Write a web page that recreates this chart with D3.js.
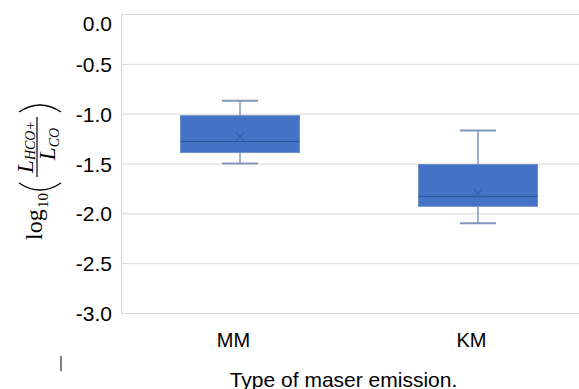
<!DOCTYPE html>
<html>
<head>
<meta charset="utf-8">
<script src="https://cdn.jsdelivr.net/npm/d3@7"></script>
<style>
  html, body { margin: 0; padding: 0; background: #fff; }
  svg { display: block; }
  text { font-family: "Liberation Sans", Arial, sans-serif; fill: #000; }
  .math text { font-family: "Liberation Serif", "Times New Roman", serif; }
</style>
</head>
<body>
<svg id="chart" width="579" height="389"></svg>
<script>
// box plot values
const categories = ["MM", "KM"];
const whiskerLow = [-1.50, -2.10];
const q1 = [-1.39, -1.93];
const median = [-1.28, -1.83];
const q3 = [-1.02, -1.51];
const whiskerHigh = [-0.87, -1.17];
const mean = [-1.23, -1.80];
const yTicks = [0, -0.5, -1, -1.5, -2, -2.5, -3];

const W = 579, H = 389;
const plot = { left: 121, top: 14, bottom: 313, right: 597 };

const svg = d3.select("#chart");

const y = d3.scaleLinear().domain([-3, 0]).range([plot.bottom, plot.top]);
const x = d3.scaleBand().domain(categories).range([plot.left, plot.right]).padding(0);
const bw = x.bandwidth();

const boxes = categories.map((c, i) => ({
  cat: c,
  lo: whiskerLow[i],
  q1: q1[i],
  med: median[i],
  q3: q3[i],
  hi: whiskerHigh[i],
  mean: mean[i],
}));

// gridlines
const grid = svg.append("g")
  .attr("transform", `translate(${plot.left},0)`)
  .call(d3.axisLeft(y).tickValues(yTicks).tickSize(-(W - plot.left)).tickFormat(""));
grid.select(".domain").remove();
grid.selectAll("line").attr("stroke", "#d9d9d9").attr("stroke-width", 1);

// left border of plot area
svg.append("line")
  .attr("x1", plot.left + 0.5).attr("x2", plot.left + 0.5)
  .attr("y1", y(0)).attr("y2", y(-3))
  .attr("stroke", "#d9d9d9");

// y tick labels
const yAxis = svg.append("g")
  .attr("transform", `translate(112,0)`)
  .call(d3.axisLeft(y).tickValues(yTicks).tickSize(0).tickPadding(0)
    .tickFormat((d) => d.toFixed(1)));
yAxis.select(".domain").remove();
yAxis.selectAll("text")
  .style("font-family", '"Liberation Sans", Arial, sans-serif')
  .style("font-size", "21px")
  .attr("fill", "#000")
  .attr("dy", "0.36em")
  .attr("y", (d) => Math.max(y(d), 23) - y(d));

// x category labels
const xAxis = svg.append("g")
  .attr("transform", `translate(-6.5,0)`)
  .call(d3.axisBottom(x).tickSize(0).tickPadding(0));
xAxis.select(".domain").remove();
xAxis.selectAll("text")
  .style("font-family", '"Liberation Sans", Arial, sans-serif')
  .style("font-size", "20px")
  .attr("fill", "#000")
  .attr("dy", 0)
  .attr("y", 347);

// boxes
const g = svg.append("g").selectAll("g").data(boxes).join("g")
  .attr("transform", (d) => `translate(${x(d.cat) + bw / 2},0)`);

const boxW = bw * 0.5;
const capW = 36;
const whiskerColor = "#8196bb";

g.append("line")
  .attr("x1", 0).attr("x2", 0)
  .attr("y1", (d) => y(d.hi)).attr("y2", (d) => y(d.q3))
  .attr("stroke", whiskerColor).attr("stroke-width", 1.5);
g.append("line")
  .attr("x1", 0).attr("x2", 0)
  .attr("y1", (d) => y(d.q1)).attr("y2", (d) => y(d.lo))
  .attr("stroke", whiskerColor).attr("stroke-width", 1.5);
g.append("line")
  .attr("x1", -capW / 2).attr("x2", capW / 2)
  .attr("y1", (d) => y(d.hi)).attr("y2", (d) => y(d.hi))
  .attr("stroke", whiskerColor).attr("stroke-width", 2);
g.append("line")
  .attr("x1", -capW / 2).attr("x2", capW / 2)
  .attr("y1", (d) => y(d.lo)).attr("y2", (d) => y(d.lo))
  .attr("stroke", whiskerColor).attr("stroke-width", 2);

g.append("rect")
  .attr("x", -boxW / 2).attr("width", boxW)
  .attr("y", (d) => y(d.q3))
  .attr("height", (d) => y(d.q1) - y(d.q3))
  .attr("fill", "#4472c4")
  .attr("stroke", "#6f8fcc").attr("stroke-width", 1);

g.append("line")
  .attr("x1", -boxW / 2).attr("x2", boxW / 2)
  .attr("y1", (d) => y(d.med)).attr("y2", (d) => y(d.med))
  .attr("stroke", "#2f5597").attr("stroke-width", 1);

// mean marker
const m = 4;
g.append("path")
  .attr("d", (d) => {
    const cy = y(d.mean);
    return `M${-m},${cy - m}L${m},${cy + m}M${-m},${cy + m}L${m},${cy - m}`;
  })
  .attr("stroke", "#3a5fa8").attr("stroke-width", 1.2).attr("fill", "none");

// x axis title
svg.append("text")
  .attr("x", 343.5).attr("y", 387)
  .attr("text-anchor", "middle")
  .style("font-size", "21px")
  .text("Type of maser emission.");

// stray mark at lower left
svg.append("line")
  .attr("x1", 61).attr("x2", 61)
  .attr("y1", 356).attr("y2", 371)
  .attr("stroke", "#555").attr("stroke-width", 1.5);

// y axis title: log10( L_HCO+ / L_CO ), rotated
const t = svg.append("g").attr("class", "math")
  .attr("transform", "translate(44,240) rotate(-90)");

t.append("text").attr("x", 0).attr("y", -2)
  .style("font-size", "24px").text("log");
t.append("text").attr("x", 32).attr("y", 4)
  .style("font-size", "15px").text("10");

// parentheses
t.append("path")
  .attr("d", "M57,-25 Q43,-4 57,17")
  .attr("fill", "none").attr("stroke", "#000").attr("stroke-width", 1.4);
t.append("path")
  .attr("d", "M128,-25 Q142,-4 128,17")
  .attr("fill", "none").attr("stroke", "#000").attr("stroke-width", 1.4);

const num = t.append("text").attr("x", 93).attr("y", -11).attr("text-anchor", "middle");
num.append("tspan").style("font-size", "23px").style("font-style", "italic").text("L");
num.append("tspan").attr("dy", 2).style("font-size", "14px").style("font-style", "italic").text("HCO+");

t.append("line")
  .attr("x1", 63).attr("x2", 123)
  .attr("y1", -7).attr("y2", -7)
  .attr("stroke", "#000").attr("stroke-width", 1.2);

const den = t.append("text").attr("x", 96).attr("y", 11).attr("text-anchor", "middle");
den.append("tspan").style("font-size", "23px").style("font-style", "italic").text("L");
den.append("tspan").attr("dy", 4).style("font-size", "14px").style("font-style", "italic").text("CO");
</script>
</body>
</html>
